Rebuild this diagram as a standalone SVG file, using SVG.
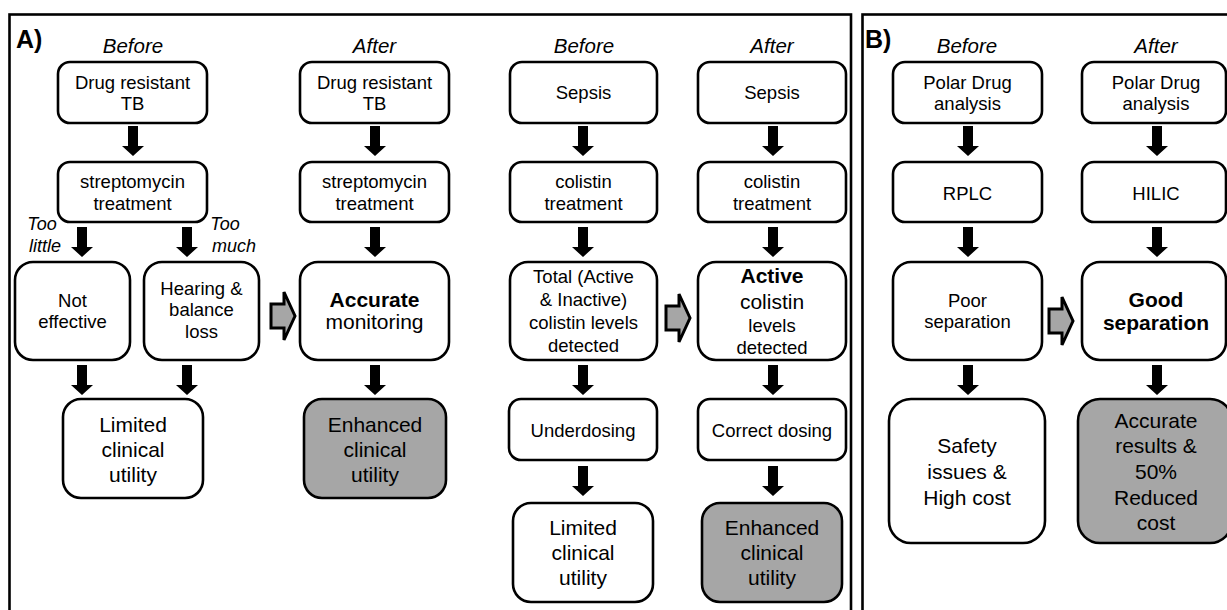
<svg xmlns="http://www.w3.org/2000/svg" width="1227" height="610" viewBox="0 0 1227 610">
<style>
text{font-family:"Liberation Sans",Arial,sans-serif;fill:#000;text-anchor:middle}
.t{font-size:18.5px}
.L{font-size:21px}
.b{font-weight:bold}
.i{font-style:italic;font-size:20.5px}
.s{font-style:italic;font-size:18px}
.p{font-weight:bold;font-size:25px;text-anchor:start}
.box{fill:#fff;stroke:#000;stroke-width:2.6}
.grey{fill:#a6a6a6;stroke:#000;stroke-width:2.6}
.frame{fill:none;stroke:#000;stroke-width:2.6}
.hol{fill:#a6a6a6;stroke:#000;stroke-width:3;stroke-linejoin:miter}
</style>
<defs>
<path id="va" d="M-5,0 H5 V20 H11 L0,30 L-11,20 H-5 Z" fill="#000"/>
<path id="ha" d="M0,13 H13 V1 L24,25 L13,49 V37 H0 Z"/>
</defs>
<rect class="frame" x="9.5" y="14.5" width="841.5" height="610"/>
<rect class="frame" x="862.5" y="14.5" width="380" height="610"/>
<text class="p" x="16" y="48">A)</text>
<text class="p" x="865" y="48">B)</text>
<text class="i" x="133" y="53">Before</text>
<text class="i" x="374.5" y="53">After</text>
<text class="i" x="584" y="53">Before</text>
<text class="i" x="772" y="53">After</text>
<text class="i" x="967" y="53">Before</text>
<text class="i" x="1156" y="53">After</text>
<text class="s" x="42" y="230">Too</text>
<text class="s" x="45" y="252">little</text>
<text class="s" x="225" y="230">Too</text>
<text class="s" x="234" y="252">much</text>

<g id="connectors">
<use href="#va" x="133" y="126"/>
<use href="#va" x="82" y="227"/>
<use href="#va" x="187" y="227"/>
<use href="#va" x="82" y="365"/>
<use href="#va" x="187" y="365"/>
<use href="#va" x="375" y="126"/>
<use href="#va" x="375" y="227"/>
<use href="#va" x="375" y="365"/>
<use href="#va" x="583" y="126"/>
<use href="#va" x="583" y="227"/>
<use href="#va" x="583" y="365"/>
<use href="#va" x="583" y="466"/>
<use href="#va" x="773" y="126"/>
<use href="#va" x="773" y="227"/>
<use href="#va" x="773" y="365"/>
<use href="#va" x="773" y="466"/>
<use href="#va" x="968" y="126"/>
<use href="#va" x="968" y="227"/>
<use href="#va" x="968" y="365"/>
<use href="#va" x="1157" y="126"/>
<use href="#va" x="1157" y="227"/>
<use href="#va" x="1157" y="365"/>
<use href="#ha" class="hol" x="271" y="291"/>
<use href="#ha" class="hol" x="666" y="293"/>
<use href="#ha" class="hol" x="1049" y="296"/>
</g>

<g id="a-before-tb"><rect class="box" x="58" y="62" width="149" height="61" rx="12"/>
<text class="t" x="132.5" y="89">Drug resistant</text><text class="t" x="132.5" y="110">TB</text></g>
<g id="a-before-strep"><rect class="box" x="58" y="162" width="149" height="60" rx="12"/>
<text class="t" x="132.5" y="188">streptomycin</text><text class="t" x="132.5" y="210">treatment</text></g>
<g id="a-not-effective"><rect class="box" x="15" y="262" width="115" height="98" rx="18"/>
<text class="t" x="72.5" y="307">Not</text><text class="t" x="72.5" y="328">effective</text></g>
<g id="a-hearing"><rect class="box" x="144" y="262" width="115" height="98" rx="18"/>
<text class="t" x="201.5" y="295">Hearing &amp;</text><text class="t" x="201.5" y="316">balance</text><text class="t" x="201.5" y="338">loss</text></g>
<g id="a-limited1"><rect class="box" x="63" y="399" width="140" height="99" rx="18"/>
<text class="L" x="133" y="432">Limited</text><text class="L" x="133" y="457">clinical</text><text class="L" x="133" y="482">utility</text></g>

<g id="a-after-tb"><rect class="box" x="300" y="62" width="149" height="61" rx="12"/>
<text class="t" x="374.5" y="89">Drug resistant</text><text class="t" x="374.5" y="110">TB</text></g>
<g id="a-after-strep"><rect class="box" x="300" y="162" width="149" height="60" rx="12"/>
<text class="t" x="374.5" y="188">streptomycin</text><text class="t" x="374.5" y="210">treatment</text></g>
<g id="a-accurate"><rect class="box" x="300" y="262" width="149" height="98" rx="18"/>
<text class="L b" x="374.5" y="307">Accurate</text><text class="L" x="374.5" y="329">monitoring</text></g>
<g id="a-enhanced1"><rect class="grey" x="304" y="399" width="142" height="99" rx="18"/>
<text class="L" x="375" y="432">Enhanced</text><text class="L" x="375" y="457">clinical</text><text class="L" x="375" y="482">utility</text></g>

<g id="a-before-sepsis"><rect class="box" x="510" y="62" width="147" height="61" rx="12"/>
<text class="t" x="583.5" y="99">Sepsis</text></g>
<g id="a-before-colistin"><rect class="box" x="510" y="162" width="147" height="60" rx="12"/>
<text class="t" x="583.5" y="188">colistin</text><text class="t" x="583.5" y="210">treatment</text></g>
<g id="a-total"><rect class="box" x="510" y="262" width="147" height="98" rx="18"/>
<text class="t" x="583.5" y="283">Total (Active</text><text class="t" x="583.5" y="306">&amp; Inactive)</text><text class="t" x="583.5" y="329">colistin levels</text><text class="t" x="583.5" y="352">detected</text></g>
<g id="a-underdosing"><rect class="box" x="509" y="399" width="148" height="61" rx="12"/>
<text class="t" x="583" y="437">Underdosing</text></g>
<g id="a-limited2"><rect class="box" x="513" y="503" width="140" height="99" rx="18"/>
<text class="L" x="583" y="535">Limited</text><text class="L" x="583" y="560">clinical</text><text class="L" x="583" y="585">utility</text></g>

<g id="a-after-sepsis"><rect class="box" x="698" y="62" width="148" height="61" rx="12"/>
<text class="t" x="772" y="99">Sepsis</text></g>
<g id="a-after-colistin"><rect class="box" x="698" y="162" width="148" height="60" rx="12"/>
<text class="t" x="772" y="188">colistin</text><text class="t" x="772" y="210">treatment</text></g>
<g id="a-active"><rect class="box" x="698" y="262" width="148" height="98" rx="18"/>
<text class="L b" x="772" y="283">Active</text><text class="L" x="772" y="309">colistin</text><text class="t" x="772" y="332">levels</text><text class="t" x="772" y="354">detected</text></g>
<g id="a-correct"><rect class="box" x="698" y="399" width="148" height="61" rx="12"/>
<text class="t" x="772" y="437">Correct dosing</text></g>
<g id="a-enhanced2"><rect class="grey" x="702" y="503" width="140" height="99" rx="18"/>
<text class="L" x="772" y="535">Enhanced</text><text class="L" x="772" y="560">clinical</text><text class="L" x="772" y="585">utility</text></g>

<g id="b-before-polar"><rect class="box" x="893" y="62" width="149" height="61" rx="12"/>
<text class="t" x="967.5" y="89">Polar Drug</text><text class="t" x="967.5" y="110">analysis</text></g>
<g id="b-rplc"><rect class="box" x="893" y="162" width="149" height="60" rx="12"/>
<text class="t" x="967.5" y="200">RPLC</text></g>
<g id="b-poor"><rect class="box" x="893" y="262" width="149" height="98" rx="18"/>
<text class="t" x="967.5" y="307">Poor</text><text class="t" x="967.5" y="328">separation</text></g>
<g id="b-safety"><rect class="box" x="889" y="399" width="156" height="144" rx="22"/>
<text class="L" x="967" y="453">Safety</text><text class="L" x="967" y="479">issues &amp;</text><text class="L" x="967" y="505">High cost</text></g>

<g id="b-after-polar"><rect class="box" x="1082" y="62" width="144" height="61" rx="12"/>
<text class="t" x="1156" y="89">Polar Drug</text><text class="t" x="1156" y="110">analysis</text></g>
<g id="b-hilic"><rect class="box" x="1082" y="162" width="144" height="60" rx="12"/>
<text class="t" x="1156" y="200">HILIC</text></g>
<g id="b-good"><rect class="box" x="1082" y="262" width="144" height="98" rx="18"/>
<text class="L b" x="1156" y="307">Good</text><text class="L b" x="1156" y="330">separation</text></g>
<g id="b-accurate"><rect class="grey" x="1078" y="399" width="154" height="144" rx="22"/>
<text class="L" x="1156" y="428">Accurate</text><text class="L" x="1156" y="453">results &amp;</text><text class="L" x="1156" y="479">50%</text><text class="L" x="1156" y="505">Reduced</text><text class="L" x="1156" y="530">cost</text></g>
</svg>
